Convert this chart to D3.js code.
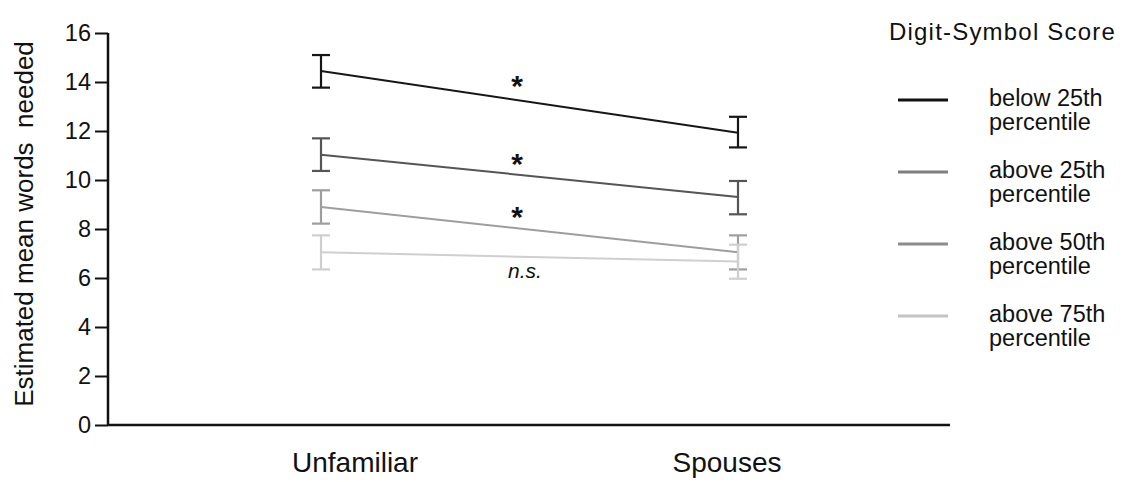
<!DOCTYPE html>
<html>
<head>
  <meta charset="utf-8">
  <title>Estimated mean words needed by Digit-Symbol Score</title>
  <script src="https://d3js.org/d3.v7.min.js"></script>
  <style>
    body {
      margin: 0;
      background: #fff;
      font-family: 'Liberation Sans', Arial, sans-serif;
      color: #111;
    }
  </style>
</head>
<body>
  <div id="chart"></div>
  <script>
    // data
    var categories = ["Unfamiliar", "Spouses"];
    var seriesNames = ["below 25th percentile", "above 25th percentile", "above 50th percentile", "above 75th percentile"];
    var means = [
      [14.45, 11.93],
      [11.03, 9.31],
      [8.90, 7.05],
      [7.05, 6.67]
    ];
    var errHi = [
      [15.10, 12.58],
      [11.70, 9.96],
      [9.58, 7.74],
      [7.74, 7.36]
    ];
    var errLo = [
      [13.77, 11.33],
      [10.37, 8.60],
      [8.22, 6.35],
      [6.35, 5.97]
    ];
    var annotations = ["*", "*", "*", "n.s."];
    var annotationY = [14.12, 10.94, 8.78, 6.0];
    var yTicks = [0, 2, 4, 6, 8, 10, 12, 14, 16];

    var lineColors = ["#161616", "#555555", "#9e9e9e", "#cfcfcf"];
    var legendColors = ["#111111", "#7f7f7f", "#8c8c8c", "#c4c4c4"];

    var W = 1123, H = 482;
    var svg = d3.select("#chart")
      .append("svg")
      .attr("width", W)
      .attr("height", H);

    var y = d3.scaleLinear().domain([0, 16]).range([425, 33]);
    var x = d3.scalePoint().domain(categories).range([321, 738]);
    var xLab = d3.scalePoint().domain(categories).range([355, 727]);

    // y axis
    var yAxis = svg.append("g")
      .attr("transform", "translate(108,0)")
      .call(d3.axisLeft(y).tickValues(yTicks).tickSize(13).tickPadding(4));
    yAxis.select(".domain").attr("stroke", "#111").attr("stroke-width", 2.5)
      .attr("d", "M0," + y(16) + "V" + y(0));
    yAxis.selectAll(".tick line").attr("stroke", "#111").attr("stroke-width", 2);
    yAxis.selectAll(".tick text")
      .style("font-size", "23.5px")
      .style("font-family", "'Liberation Sans', Arial, sans-serif")
      .attr("fill", "#111");

    // x axis baseline
    svg.append("line")
      .attr("x1", 108).attr("x2", 950)
      .attr("y1", y(0)).attr("y2", y(0))
      .attr("stroke", "#111").attr("stroke-width", 2.5);

    svg.selectAll(".xlab")
      .data(categories)
      .enter()
      .append("text")
      .attr("class", "xlab")
      .attr("x", d => xLab(d))
      .attr("y", 472)
      .attr("text-anchor", "middle")
      .style("font-size", "28px")
      .attr("fill", "#111")
      .text(d => d);

    // y title
    svg.append("text")
      .attr("transform", "translate(33,224) rotate(-90)")
      .attr("text-anchor", "middle")
      .style("font-size", "26px")
      .attr("fill", "#111")
      .style("white-space", "pre")
      .attr("xml:space", "preserve")
      .text("Estimated mean words  needed");

    // series
    var line = d3.line()
      .x((d, i) => x(categories[i]))
      .y(d => y(d));

    seriesNames.forEach(function (name, s) {
      var g = svg.append("g");
      // error bars
      categories.forEach(function (c, i) {
        var cx = x(c);
        g.append("line")
          .attr("x1", cx).attr("x2", cx)
          .attr("y1", y(errHi[s][i])).attr("y2", y(errLo[s][i]))
          .attr("stroke", lineColors[s]).attr("stroke-width", 2.2);
        [errHi[s][i], errLo[s][i]].forEach(function (v) {
          g.append("line")
            .attr("x1", cx - 9).attr("x2", cx + 9)
            .attr("y1", y(v)).attr("y2", y(v))
            .attr("stroke", lineColors[s]).attr("stroke-width", 2.2);
        });
      });
      g.append("path")
        .datum(means[s])
        .attr("d", line)
        .attr("fill", "none")
        .attr("stroke", lineColors[s])
        .attr("stroke-width", 2);
    });

    // significance marks
    svg.selectAll(".sig")
      .data(annotations)
      .enter()
      .append("text")
      .attr("class", "sig")
      .attr("x", (d, i) => d === "*" ? 517 : 525)
      .attr("y", (d, i) => d === "*" ? y(annotationY[i]) + 17 : y(annotationY[i]))
      .attr("text-anchor", "middle")
      .style("font-size", d => d === "*" ? "30px" : "21px")
      .style("font-style", d => d === "*" ? "normal" : "italic")
      .style("font-weight", d => d === "*" ? "bold" : "normal")
      .attr("fill", "#111")
      .text(d => d);

    // legend
    svg.append("text")
      .attr("x", 889)
      .attr("y", 40)
      .style("font-size", "24px")
      .style("letter-spacing", "1.2px")
      .attr("fill", "#111")
      .text("Digit-Symbol Score");

    var legendY = d3.scalePoint().domain(seriesNames).range([100, 316]);
    var lg = svg.selectAll(".legend")
      .data(seriesNames)
      .enter()
      .append("g")
      .attr("class", "legend")
      .attr("transform", d => "translate(0," + legendY(d) + ")");

    lg.append("line")
      .attr("x1", 898).attr("x2", 948)
      .attr("y1", 0).attr("y2", 0)
      .attr("stroke", (d, i) => legendColors[i])
      .attr("stroke-width", 3);

    lg.each(function (d) {
      var words = d.split(" ");
      var t = d3.select(this).append("text")
        .attr("x", 989)
        .attr("y", 6)
        .style("font-size", "23.5px")
        .attr("fill", "#111");
      t.append("tspan").attr("x", 989).attr("dy", 0).text(words[0] + " " + words[1]);
      t.append("tspan").attr("x", 989).attr("dy", 24).text(words[2]);
    });
  </script>
</body>
</html>
